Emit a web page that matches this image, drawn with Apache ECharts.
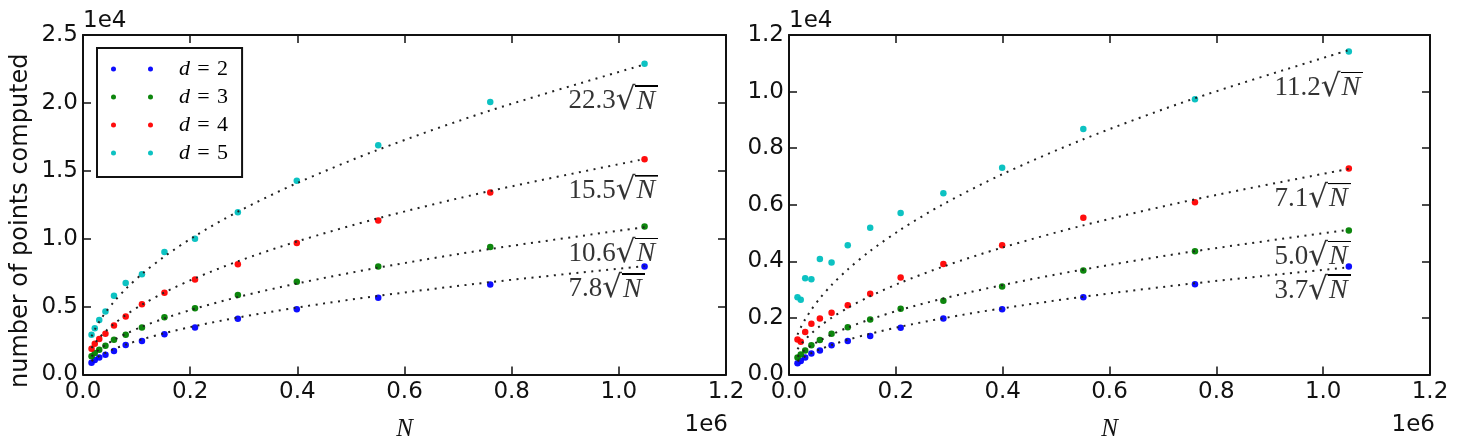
<!DOCTYPE html>
<html>
<head>
<meta charset="utf-8">
<script src="https://cdn.jsdelivr.net/npm/echarts@6/dist/echarts.min.js"></script>
<style>
  html, body { margin: 0; padding: 0; background: #fff; }
  #chart { width: 1457px; height: 447px; }
</style>
</head>
<body>
<div id="chart"></div>
<script>
// problem sizes N (same for both panels)
const sizes = [15900, 22000, 30300, 41900, 57800, 79700, 110000, 152000, 209000, 289000, 399000, 551000, 760000, 1048000];

const dims = ['d=2', 'd=3', 'd=4', 'd=5'];
const colors = ['#0000ff', '#008000', '#ff0000', '#00bfbf'];

// left panel: number of points computed
const left_d2 = [860, 1060, 1250, 1460, 1730, 2170, 2460, 2970, 3470, 4100, 4800, 5660, 6630, 7950];
const left_d3 = [1340, 1590, 1830, 2120, 2560, 2920, 3460, 4220, 4880, 5850, 6830, 7950, 9390, 10900];
const left_d4 = [1900, 2270, 2610, 3000, 3610, 4270, 5170, 6020, 7000, 8110, 9680, 11340, 13410, 15850];
const left_d5 = [2920, 3410, 4020, 4630, 5800, 6730, 7380, 9020, 10000, 11940, 14270, 16880, 20070, 22880];

// right panel
const right_d2 = [400, 480, 600, 740, 850, 1030, 1180, 1360, 1650, 1980, 2310, 2730, 3190, 3820];
const right_d3 = [600, 710, 850, 1030, 1220, 1440, 1670, 1940, 2320, 2610, 3110, 3680, 4360, 5090];
const right_d4 = [1240, 1160, 1500, 1790, 1980, 2180, 2450, 2850, 3430, 3910, 4570, 5540, 6090, 7280];
const right_d5 = [2730, 2640, 3400, 3370, 4080, 3960, 4570, 5190, 5710, 6410, 7310, 8680, 9730, 11420];

// fitted coefficients c in c*sqrt(N)
const leftCoef = [7.8, 10.6, 15.5, 22.3];
const rightCoef = [3.7, 5.0, 7.1, 11.2];

// where the fit labels sit (data coords, left edge / middle)
const leftLabelX = 906000;
const leftLabelY = [6270, 8910, 13510, 20110];
const rightLabelX = 909000;
const rightLabelY = [2970, 4170, 6210, 10140];

// small image used as the overline of the square root
const bar = document.createElement('canvas');
bar.width = 4; bar.height = 64;
const bctx = bar.getContext('2d');
bctx.fillStyle = '#000';
bctx.fillRect(0, 0, 4, 3);

const chart = echarts.init(document.getElementById('chart'));

const tickFont = { fontFamily: 'DejaVu Sans', fontSize: 23, color: '#111' };

const frameAxis = (extra) => Object.assign({
    type: 'value',
    axisLine: { show: true, onZero: false, lineStyle: { color: '#111', width: 2 } },
    axisTick: { show: true, inside: true, length: 8, lineStyle: { color: '#111', width: 1.5 } },
    splitLine: { show: false },
    axisLabel: { show: false }
}, extra);

const xAxes = [];
const yAxes = [];
[0, 1].forEach(g => {
    const ymax = g == 0 ? 25000 : 12000;
    const yint = g == 0 ? 5000 : 2000;
    xAxes.push(frameAxis({
        gridIndex: g, position: 'bottom', min: 0, max: 1200000, interval: 200000,
        axisLabel: Object.assign({ show: true, margin: 6, formatter: v => (v / 1e6).toFixed(1) }, tickFont),
        name: 'N', nameLocation: 'middle', nameGap: 55,
        nameTextStyle: { fontFamily: 'Liberation Serif', fontStyle: 'italic', fontSize: 25, color: '#111', verticalAlign: 'middle' }
    }));
    xAxes.push(frameAxis({ gridIndex: g, position: 'top', min: 0, max: 1200000, interval: 200000 }));
    yAxes.push(frameAxis({
        gridIndex: g, position: 'left', min: 0, max: ymax, interval: yint,
        axisLabel: Object.assign({ show: true, margin: 5, formatter: v => (v / 1e4).toFixed(1) }, tickFont),
        name: '1e4', nameLocation: 'end', nameGap: 2,
        nameTextStyle: Object.assign({ align: 'left', verticalAlign: 'bottom' }, tickFont)
    }));
    yAxes.push(frameAxis({ gridIndex: g, position: 'right', min: 0, max: ymax, interval: yint }));
});
// hidden axis that only carries the y title of the left panel
yAxes.push(frameAxis({
    gridIndex: 0, position: 'left', min: 0, max: 25000,
    axisLine: { show: false }, axisTick: { show: false },
    name: 'number of points computed', nameLocation: 'middle', nameGap: 62,
    nameTextStyle: { fontFamily: 'DejaVu Sans', fontSize: 24, color: '#111', verticalAlign: 'middle', padding: [0, 32, 0, 0] }
}));

const panels = [
    { x: 0, y: 0, values: [left_d2, left_d3, left_d4, left_d5], coef: leftCoef, lx: leftLabelX, ly: leftLabelY },
    { x: 2, y: 2, values: [right_d2, right_d3, right_d4, right_d5], coef: rightCoef, lx: rightLabelX, ly: rightLabelY }
];

const series = [];
panels.forEach(p => {
    p.values.forEach((vals, i) => {
        series.push({
            name: dims[i], type: 'scatter', xAxisIndex: p.x, yAxisIndex: p.y,
            symbol: 'circle', symbolSize: 6.5, z: 2,
            itemStyle: { color: colors[i], opacity: 0.95 },
            data: sizes.map((n, k) => [n, vals[k]])
        });
    });
    p.coef.forEach((c, i) => {
        series.push({
            name: 'fit', type: 'line', xAxisIndex: p.x, yAxisIndex: p.y,
            showSymbol: false, smooth: 0.3, z: 3, silent: true,
            lineStyle: { color: '#222', width: 2, type: [2, 5.5] },
            data: sizes.map(n => [n, c * Math.sqrt(n)])
        });
        series.push({
            name: 'label', type: 'scatter', xAxisIndex: p.x, yAxisIndex: p.y,
            symbolSize: 0, silent: true, z: 4,
            data: [[p.lx, p.ly[i]]],
            label: {
                show: true, position: 'inside', align: 'left', verticalAlign: 'middle',
                formatter: '{a|' + c.toFixed(1) + '}{r|\u221A}{n|N}',
                rich: {
                    a: { fontFamily: 'Liberation Serif', fontSize: 27, color: '#000', lineHeight: 32 },
                    r: { fontFamily: 'DejaVu Serif', fontSize: 31, color: '#000', lineHeight: 32 },
                    n: {
                        fontFamily: 'Liberation Serif', fontStyle: 'italic', fontSize: 28, color: '#000',
                        lineHeight: 32, height: 32, padding: [0, 3, 0, 1],
                        backgroundColor: { image: bar }
                    }
                }
            }
        });
    });
});

const option = {
    animation: false,
    backgroundColor: '#fff',
    grid: [
        { left: 83, top: 35, width: 643, height: 342 },
        { left: 789, top: 35, width: 641, height: 342 }
    ],
    xAxis: xAxes,
    yAxis: yAxes,
    legend: {
        data: dims,
        orient: 'vertical',
        left: 97, top: 48,
        padding: [10, 14, 13, 14],
        borderColor: '#111', borderWidth: 2,
        itemWidth: 42, itemHeight: 5, itemGap: 6,
        icon: 'path://M0,2.5a2.5,2.5 0 1,0 5,0a2.5,2.5 0 1,0 -5,0ZM37,2.5a2.5,2.5 0 1,0 5,0a2.5,2.5 0 1,0 -5,0Z',
        formatter: name => '{d|d}{e|\u2004=\u2004' + name.slice(2) + '}',
        textStyle: {
            lineHeight: 20,
            rich: {
                d: { fontFamily: 'Liberation Serif', fontStyle: 'italic', fontSize: 22, color: '#000', padding: [0, 0, 0, 21] },
                e: { fontFamily: 'Liberation Serif', fontSize: 22, color: '#000' }
            }
        }
    },
    graphic: [
        { type: 'text', right: 729, top: 414, style: { text: '1e6', font: '23px "DejaVu Sans"', fill: '#111' } },
        { type: 'text', right: 22, top: 414, style: { text: '1e6', font: '23px "DejaVu Sans"', fill: '#111' } }
    ],
    series: series
};

chart.setOption(option);
</script>
</body>
</html>
